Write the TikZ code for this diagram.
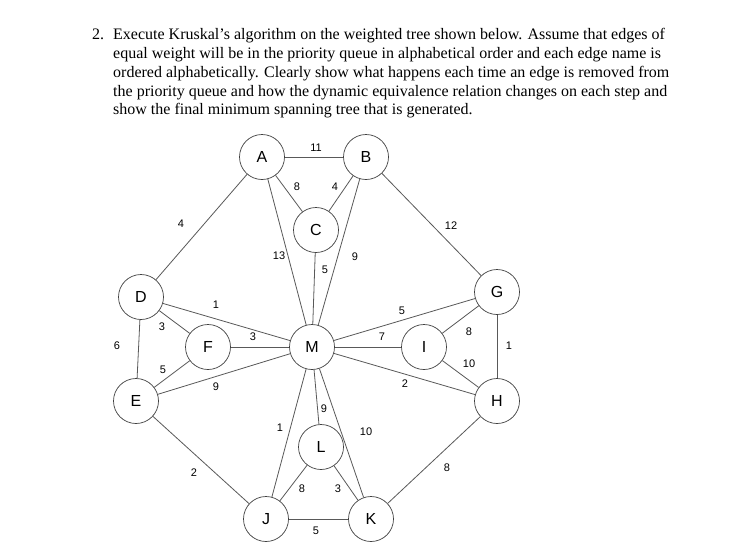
\documentclass[tikz,border=0pt]{standalone}
\usepackage{fontspec}
\setmainfont{Liberation Serif}
\newfontfamily\arialf{Liberation Sans}
\begin{document}
\begin{tikzpicture}[x=1pt,y=-1pt,
  vtx/.style={circle,draw=black!75,line width=0.7pt,minimum size=45pt,inner sep=0pt,font=\arialf\fontsize{16}{16}\selectfont,fill=white},
  edg/.style={draw=black!65,line width=0.8pt},
  wt/.style={font=\arialf\fontsize{11}{11}\selectfont,inner sep=0pt},
  txt/.style={anchor=base west,inner sep=0pt,font=\fontsize{16}{19}\selectfont}]
\fill[white] (0,0) rectangle (751,544);
\useasboundingbox (0,0) rectangle (751,544);
% text
\node[txt] (n2) at (92,39) {2.};
\node[txt] (t1) at (113,39) {Execute Kruskal’s algorithm on the weighted tree shown below. Assume that edges of};
\node[txt] (t2) at (113,58) {equal weight will be in the priority queue in alphabetical order and each edge name is};
\node[txt] (t3) at (113,77) {ordered alphabetically. Clearly show what happens each time an edge is removed from};
\node[txt] (t4) at (113,96) {the priority queue and how the dynamic equivalence relation changes on each step and};
\node[txt] (t5) at (113,114) {show the final minimum spanning tree that is generated.};
% vertices
\node[vtx] (A) at (262,157) {A};
\node[vtx] (B) at (366,157) {B};
\node[vtx] (C) at (316,230) {C};
\node[vtx] (D) at (141,297) {D};
\node[vtx] (F) at (208,347) {F};
\node[vtx] (M) at (312,347) {M};
\node[vtx] (E) at (136,401) {E};
\node[vtx] (G) at (497,292) {G};
\node[vtx] (I) at (424,347) {I};
\node[vtx] (H) at (497,401) {H};
\node[vtx] (L) at (321,447) {L};
\node[vtx] (J) at (266,519) {J};
\node[vtx] (K) at (371,519) {K};
% edges
\foreach \u/\v in {A/B,A/C,B/C,A/M,B/M,C/M,A/D,B/G,D/M,D/F,D/E,F/M,E/F,E/M,G/M,I/M,H/M,G/I,I/H,G/H,E/J,H/K,M/J,M/L,M/K,J/L,L/K,J/K}
  \draw[edg] (\u) -- (\v);
% weights
\node[wt] (w1) at (316,148) {11};
\node[wt] (w2) at (297,187) {8};
\node[wt] (w3) at (335,187) {4};
\node[wt] (w4) at (279,256) {13};
\node[wt] (w5) at (325,270) {5};
\node[wt] (w6) at (355,257) {9};
\node[wt] (w7) at (181,224) {4};
\node[wt] (w8) at (451,226) {12};
\node[wt] (w9) at (216,305) {1};
\node[wt] (w10) at (162,327) {3};
\node[wt] (w11) at (253,337) {3};
\node[wt] (w12) at (117,346) {6};
\node[wt] (w13) at (163,370) {5};
\node[wt] (w14) at (216,387) {9};
\node[wt] (w15) at (402,311) {5};
\node[wt] (w16) at (382,337) {7};
\node[wt] (w17) at (469,332) {8};
\node[wt] (w18) at (509,346) {1};
\node[wt] (w19) at (469,364) {10};
\node[wt] (w20) at (405,384) {2};
\node[wt] (w21) at (280,428) {1};
\node[wt] (w22) at (324,409) {9};
\node[wt] (w23) at (366,432) {10};
\node[wt] (w24) at (194,473) {2};
\node[wt] (w25) at (447,468) {8};
\node[wt] (w26) at (302,489) {8};
\node[wt] (w27) at (338,489) {3};
\node[wt] (w28) at (316,531) {5};
\end{tikzpicture}
\end{document}
